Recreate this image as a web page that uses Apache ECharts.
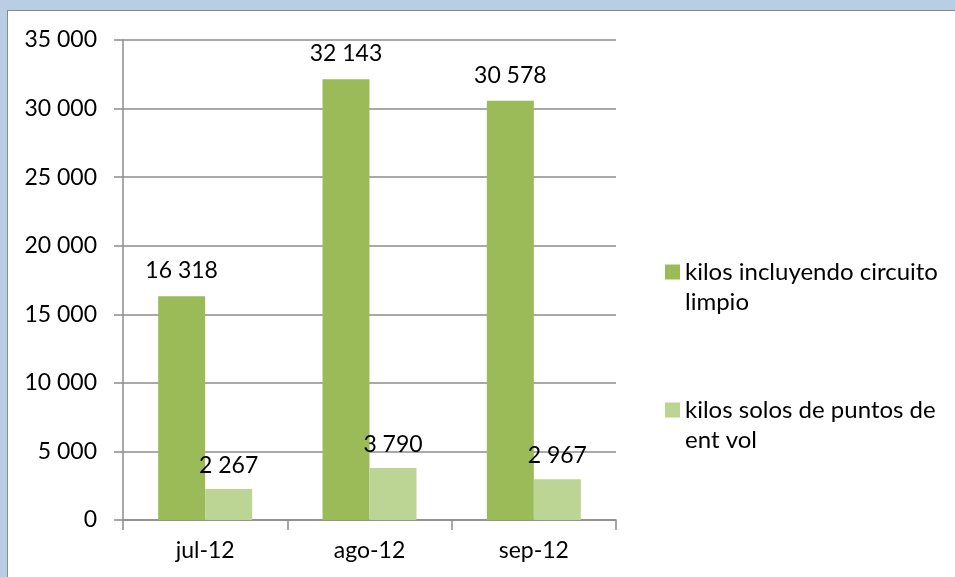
<!DOCTYPE html>
<html>
<head>
<meta charset="utf-8">
<script src="https://cdn.jsdelivr.net/npm/echarts@6/dist/echarts.min.js"></script>
<style>
  html, body { margin: 0; padding: 0; background: #B9CDE5; width: 955px; height: 577px; overflow: hidden; }
  #chart {
    position: absolute; left: 7px; top: 10px;
    width: 948px; height: 567px;
    background: #fff;
    border-left: 1px solid #8a8a8a; border-top: 1px solid #8a8a8a;
  }
</style>
</head>
<body>
<div id="chart"></div>
<script>
// datos
var months = ['jul-12', 'ago-12', 'sep-12'];
var seriesNames = ['kilos incluyendo circuito limpio', 'kilos solos de puntos de ent vol'];
var legendLines = ['kilos incluyendo circuito\nlimpio', 'kilos solos de puntos de\nent vol'];
var kilosCircuito = [16318, 32143, 30578];
var kilosPuntos = [2267, 3790, 2967];
var yTicks = [0, 5000, 10000, 15000, 20000, 25000, 30000, 35000];

var FONT = 'Lato, "Open Sans", sans-serif';

// 16318 -> "16 318"
function fmt(v) {
  return String(v).replace(/\B(?=(\d{3})+(?!\d))/g, ' ');
}

var gridColor = '#8c8c8c';
// cuadrado de leyenda alineado con la primera linea del texto (caja de 15x60)
var legendIcon = 'path://M0,7.5h15v15h-15z M0,0h0.01v0.01h-0.01z M14.99,59.99h0.01v0.01h-0.01z';

var option = {
  animation: false,
  textStyle: { fontFamily: FONT },
  grid: { left: 115, top: 29, right: 340, bottom: 58 },
  legend: {
    orient: 'vertical',
    left: 652,
    top: 241,
    itemWidth: 15,
    itemHeight: 60,
    itemGap: 78,
    icon: legendIcon,
    data: seriesNames,
    formatter: function (name) { return legendLines[seriesNames.indexOf(name)]; },
    textStyle: { fontFamily: FONT, fontSize: 24, color: '#000', lineHeight: 30 }
  },
  xAxis: {
    type: 'category',
    data: months,
    axisLine: { lineStyle: { color: gridColor, width: 1.5 } },
    axisTick: { show: true, length: 10, lineStyle: { color: gridColor, width: 1.5 } },
    axisLabel: { fontFamily: FONT, fontSize: 23, color: '#000', margin: 19 }
  },
  yAxis: {
    type: 'value',
    min: yTicks[0],
    max: yTicks[yTicks.length - 1],
    interval: yTicks[1] - yTicks[0],
    axisLine: { show: true, lineStyle: { color: gridColor, width: 1.5 } },
    axisTick: { show: true, length: 9, lineStyle: { color: gridColor, width: 1.5 } },
    splitLine: { lineStyle: { color: gridColor, width: 1.5 } },
    axisLabel: { fontFamily: FONT, fontSize: 23, color: '#000', margin: 26, formatter: fmt }
  },
  series: [
    {
      name: seriesNames[0],
      type: 'bar',
      data: kilosCircuito,
      barWidth: 47,
      barGap: '0%',
      itemStyle: { color: '#9BBB59' },
      label: { show: true, position: 'top', distance: 14, fontFamily: FONT, fontSize: 23, color: '#000',
               formatter: function (p) { return fmt(p.value); } }
    },
    {
      name: seriesNames[1],
      type: 'bar',
      data: kilosPuntos,
      barWidth: 47,
      barGap: '0%',
      itemStyle: { color: '#BCD595' },
      label: { show: true, position: 'top', distance: 12, fontFamily: FONT, fontSize: 23, color: '#000',
               formatter: function (p) { return fmt(p.value); } }
    }
  ]
};

var chart = echarts.init(document.getElementById('chart'));
chart.setOption(option);
</script>
</body>
</html>
